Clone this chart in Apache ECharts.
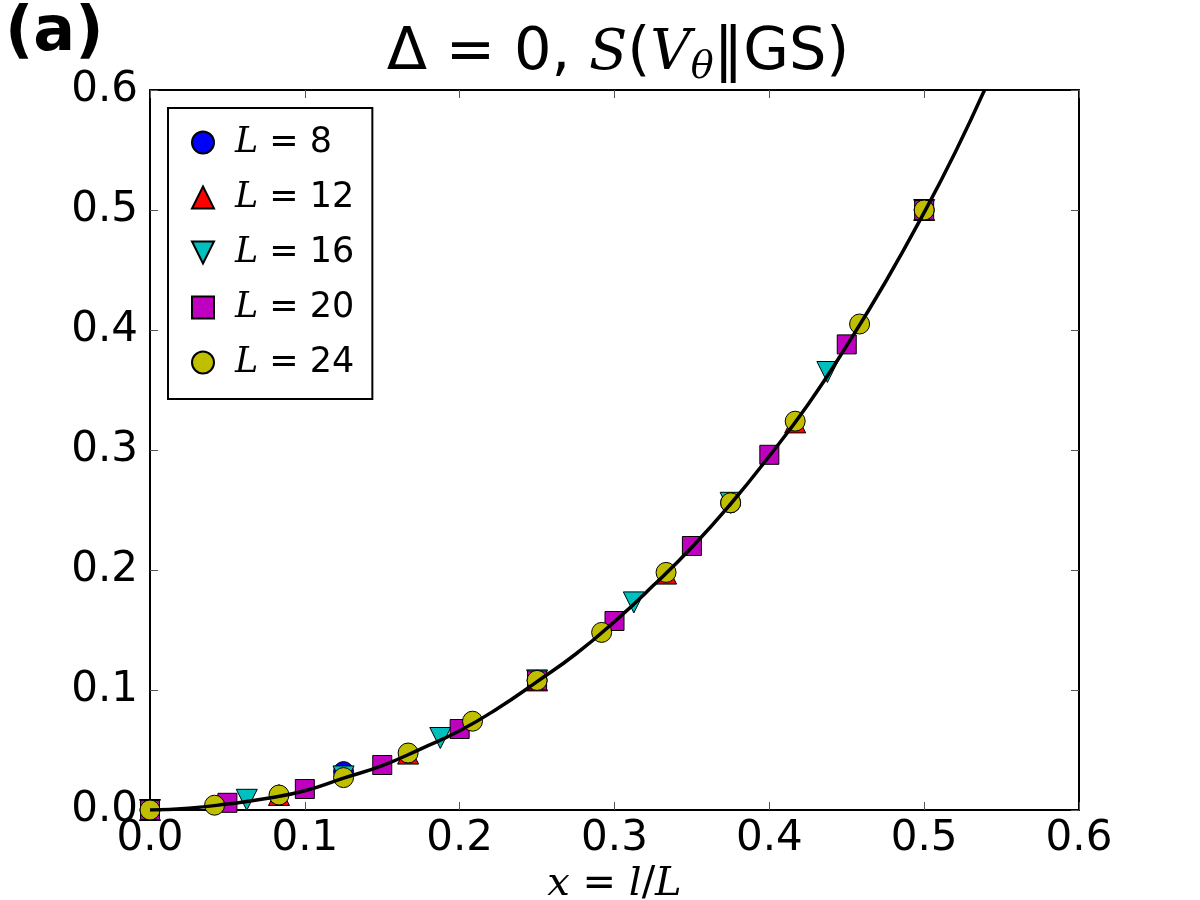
<!DOCTYPE html>
<html>
<head>
<meta charset="utf-8">
<script src="https://cdn.jsdelivr.net/npm/echarts@6/dist/echarts.min.js"></script>
<style>
  html, body { margin: 0; padding: 0; background: #fff; }
  #chart { width: 1200px; height: 900px; }
</style>
</head>
<body>
<div id="chart"></div>
<script>
// 数据：x = l/L, y = S(V_theta || GS)
var xL8 = [0, 0.125, 0.25, 0.375, 0.5];
var yL8 = [0, 0.032, 0.108, 0.256, 0.5];

var xL12 = [0, 0.0833, 0.1667, 0.25, 0.3333, 0.4167, 0.5];
var yL12 = [0, 0.0125, 0.047, 0.108, 0.197, 0.323, 0.5];

var xL16 = [0, 0.0625, 0.125, 0.1875, 0.25, 0.3125, 0.375, 0.4375, 0.5];
var yL16 = [0, 0.0085, 0.028, 0.06, 0.108, 0.173, 0.256, 0.365, 0.5];

var xL20 = [0, 0.05, 0.1, 0.15, 0.2, 0.25, 0.3, 0.35, 0.4, 0.45, 0.5];
var yL20 = [0, 0.006, 0.0175, 0.0375, 0.0675, 0.108, 0.1575, 0.22, 0.296, 0.388, 0.5];

var xL24 = [0, 0.0417, 0.0833, 0.125, 0.1667, 0.2083, 0.25, 0.2917, 0.3333, 0.375, 0.4167, 0.4583, 0.5];
var yL24 = [0, 0.004, 0.0125, 0.027, 0.0475, 0.074, 0.108, 0.148, 0.198, 0.256, 0.324, 0.405, 0.5];

// 拟合曲线
var xFit = [0, 0.025, 0.05, 0.075, 0.1, 0.125, 0.15, 0.175, 0.2, 0.225, 0.25, 0.275, 0.3,
            0.325, 0.35, 0.375, 0.4, 0.425, 0.45, 0.475, 0.5, 0.52, 0.539];
var yFit = [0, 0.0015, 0.005, 0.0095, 0.016, 0.0265, 0.037, 0.051, 0.066, 0.085, 0.107, 0.13, 0.157,
            0.187, 0.219, 0.255, 0.295, 0.338, 0.387, 0.44, 0.498, 0.548, 0.6];

var tickLabels = ['0.0', '0.1', '0.2', '0.3', '0.4', '0.5', '0.6'];

function pairs(xs, ys) {
  return xs.map(function (x, i) { return [x, ys[i]]; });
}

var sans = 'DejaVu Sans';
var serif = 'DejaVu Serif';
var downTri = 'path://M0,0 L10,0 L5,10 Z';

function markerSeries(name, xs, ys, symbol, color, size) {
  return {
    name: name,
    type: 'scatter',
    data: pairs(xs, ys),
    symbol: symbol,
    symbolSize: size,
    itemStyle: { color: color, borderColor: '#000', borderWidth: 1, opacity: 1 },
    z: 2
  };
}

var chart = echarts.init(document.getElementById('chart'));

var tickStyle = { show: true, inside: true, length: 8, lineStyle: { color: '#555', width: 1 } };
var lineStyleAxis = { show: true, onZero: false, lineStyle: { color: '#000', width: 2 } };

var option = {
  backgroundColor: '#fff',
  animation: false,
  title: [{
    text: '{a|Δ = 0, }{i|S}{a|(}{i|V}{s|θ}{a|‖GS)}',
    left: 613, top: 16, textAlign: 'center',
    textStyle: {
      fontWeight: 'normal',
      rich: {
        a: { fontFamily: sans, fontWeight: 'normal', fontSize: 59, color: '#000' },
        i: { fontFamily: serif, fontWeight: 'normal', fontStyle: 'italic', fontSize: 56, color: '#000' },
        s: { fontFamily: serif, fontWeight: 'normal', fontStyle: 'italic', fontSize: 38, color: '#000', verticalAlign: 'bottom', padding: [28, 0, 0, 0] }
      }
    }
  }, {
    text: '(a)',
    left: 0, top: -2,
    textStyle: { fontFamily: sans, fontWeight: 'bold', fontSize: 62, color: '#000' }
  }],
  legend: {
    left: 168, top: 108,
    orient: 'vertical',
    data: [
      { name: 'L8', icon: 'circle' },
      { name: 'L12', icon: 'triangle' },
      { name: 'L16', icon: downTri },
      { name: 'L20', icon: 'rect' },
      { name: 'L24', icon: 'circle' }
    ],
    formatter: function (n) { return '{i|L}{a| = ' + n.slice(1) + '}'; },
    itemWidth: 22, itemHeight: 22,
    itemGap: 20,
    padding: [17, 18, 19, 23],
    borderColor: '#000', borderWidth: 2,
    backgroundColor: '#fff',
    textStyle: {
      padding: [0, 0, 0, 16],
      rich: {
        i: { fontFamily: serif, fontStyle: 'italic', fontSize: 35, color: '#000', lineHeight: 37 },
        a: { fontFamily: sans, fontSize: 35, color: '#000', lineHeight: 37 }
      }
    }
  },
  grid: { left: 150, right: 121, top: 90, bottom: 90, containLabel: false, outerBoundsMode: 'none' },
  xAxis: [{
    type: 'value', min: 0, max: 0.6, interval: 0.1, position: 'bottom',
    splitLine: { show: false }, axisLine: lineStyleAxis, axisTick: tickStyle,
    axisLabel: {
      fontFamily: sans, fontSize: 42, color: '#000', margin: 8,
      formatter: function (v) { return tickLabels[Math.round(v * 10)]; }
    },
    name: '{i|x}{a| = }{i|l}{a|/}{i|L}',
    nameLocation: 'middle', nameGap: 50,
    nameTextStyle: {
      rich: {
        i: { fontFamily: serif, fontStyle: 'italic', fontSize: 40, color: '#000' },
        a: { fontFamily: sans, fontSize: 40, color: '#000' }
      }
    }
  }, {
    type: 'value', min: 0, max: 0.6, interval: 0.1, position: 'top',
    splitLine: { show: false }, axisLine: lineStyleAxis, axisTick: tickStyle,
    axisLabel: { show: false }
  }],
  yAxis: [{
    type: 'value', min: 0, max: 0.6, interval: 0.1, position: 'left',
    splitLine: { show: false }, axisLine: lineStyleAxis, axisTick: tickStyle,
    axisLabel: {
      fontFamily: sans, fontSize: 42, color: '#000', margin: 12,
      formatter: function (v) { return tickLabels[Math.round(v * 10)]; }
    }
  }, {
    type: 'value', min: 0, max: 0.6, interval: 0.1, position: 'right',
    splitLine: { show: false }, axisLine: lineStyleAxis, axisTick: tickStyle,
    axisLabel: { show: false }
  }],
  series: [
    markerSeries('L8', xL8, yL8, 'circle', '#0000ff', 20),
    markerSeries('L12', xL12, yL12, 'triangle', '#ff0000', 21),
    markerSeries('L16', xL16, yL16, downTri, '#00bfbf', 21),
    markerSeries('L20', xL20, yL20, 'rect', '#bf00bf', 19),
    markerSeries('L24', xL24, yL24, 'circle', '#bfbf00', 20),
    {
      name: 'fit',
      type: 'line',
      data: pairs(xFit, yFit),
      smooth: true,
      showSymbol: false,
      symbol: 'none',
      lineStyle: { color: '#000', width: 3.5 },
      z: 3
    }
  ]
};

chart.setOption(option);
window.onresize = chart.resize;
</script>
</body>
</html>
